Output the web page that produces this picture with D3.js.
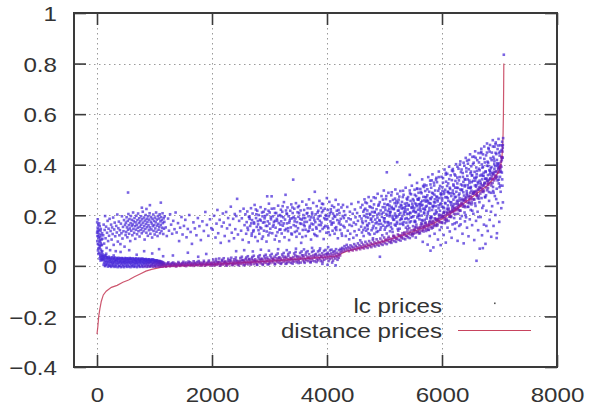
<!DOCTYPE html>
<html>
<head>
<meta charset="utf-8">
<script src="https://cdn.jsdelivr.net/npm/d3@7"></script>
<style>
  html, body { margin: 0; padding: 0; background: #fff; }
  svg { display: block; }
  text { font-family: "Liberation Sans", Arial, sans-serif; fill: #333; }
</style>
</head>
<body>
<svg id="chart" width="589" height="409"></svg>
<script>
// ---- distance prices: sorted curve (x = rank, y = price) ----
const distX = [0, 15, 30, 50, 75, 110, 160, 250, 350, 450, 550, 650, 750, 850, 950, 1050, 1150, 1300, 1600, 2000, 2500, 3000, 3500, 4000, 4200, 4260, 4350, 4500, 4750, 5000, 5300, 5600, 5800, 6000, 6200, 6400, 6600, 6800, 6950, 7000, 7030, 7050, 7062, 7068, 7072, 7075];
const distY = [-0.27, -0.24, -0.2, -0.17, -0.14, -0.115, -0.1, -0.085, -0.077, -0.065, -0.056, -0.043, -0.032, -0.021, -0.014, -0.009, -0.004, -0.001, 0.002, 0.006, 0.012, 0.019, 0.027, 0.035, 0.04, 0.05, 0.058, 0.066, 0.082, 0.098, 0.12, 0.143, 0.162, 0.185, 0.215, 0.25, 0.285, 0.32, 0.36, 0.38, 0.41, 0.45, 0.52, 0.6, 0.7, 0.8];

// ---- lc prices: flat [x, y, x, y, ...] lists ----
const lcLeftColumn = [3,.172, 8,.118, 12,.151, 15,.087, 19,.134, 22,.162, 26,.069, 29,.109, 33,.143, 36,.052, 40,.125, 43,.096, 47,.157, 50,.078, 54,.113, 57,.041, 61,.138, 64,.091, 68,.064, 71,.121, 75,.047, 78,.104, 82,.033, 85,.083, 89,.129, 92,.058, 96,.028, 5,.098, 10,.139, 17,.061, 24,.117, 31,.083, 38,.168, 45,.071, 52,.101, 59,.036, 66,.146, 73,.082, 80,.055, 87,.039, 94,.107, 2,.131, 13,.184, 27,.047, 44,.029, 62,.021, 76,.026, 90,.024];

const lcLowBand = [105,.038, 112,.022, 118,.031, 124,.012, 131,.027, 137,.041, 143,.018, 150,.006, 156,.029, 162,.015, 170,.034, 176,.021, 183,.009, 190,.026, 197,.014, 204,.031, 210,.003, 217,.019, 224,.024, 231,.011, 238,.028, 245,.016, 252,.002, 259,.021, 266,.012, 273,.026, 280,.007, 287,.017, 294,.029, 301,.013, 308,.022, 315,.004, 322,.018, 329,.025, 336,.010, 343,.020, 350,.028, 357,.006, 364,.015, 371,.023, 378,.012, 385,.027, 392,.001, 399,.019, 406,.014, 413,.024, 420,.008, 427,.017, 434,.029, 441,.011, 448,.021, 455,.004, 462,.016, 469,.026, 476,.013, 483,.020, 490,.007, 497,.024, 504,.015, 511,.028, 518,.010, 525,.018, 532,.003, 539,.022, 546,.013, 553,.027, 560,.017, 567,.009, 574,.023, 581,.014, 588,.029, 595,.005, 602,.019, 609,.012, 616,.025, 623,.016, 630,.002, 637,.021, 644,.011, 651,.026, 658,.008, 665,.018, 672,.024, 679,.013, 686,.020, 693,.006, 700,.016, 707,.027, 714,.011, 721,.022, 728,.004, 735,.017, 742,.025, 749,.013, 756,.019, 763,.008, 770,.023, 777,.015, 784,.028, 791,.003, 798,.018, 805,.012, 812,.024, 819,.009, 826,.020, 833,.014, 840,.026, 847,.006, 854,.017, 861,.022, 868,.011, 875,.019, 882,.004, 889,.015, 896,.025, 903,.010, 910,.021, 917,.013, 924,.018, 931,.002, 938,.016, 945,.023, 952,.008, 959,.019, 966,.012, 973,.025, 980,.005, 987,.017, 994,.011, 1001,.021, 1008,.014, 1015,.003, 1022,.019, 1029,.009, 1036,.016, 1043,.022, 1050,.007, 1057,.013, 1064,.018, 1071,.004, 1078,.015, 1085,.010, 1092,.019, 1099,.006, 1106,.012, 1113,.016, 1120,.003, 1127,.011, 1134,.008, 1141,.014, 1148,.005,
1155,.006, 1168,.001, 1180,.009, 1193,.003, 1205,-.001, 1218,.007, 1230,.010, 1243,.002, 1256,.006, 1268,-.002, 1281,.008, 1294,.004, 1306,.011, 1319,.000, 1332,.006, 1345,.003, 1357,.009, 1370,.005, 1383,-.001, 1396,.007, 1408,.002, 1421,.010, 1434,.005, 1447,.000, 1459,.008, 1472,.004, 1485,.011, 1498,.006, 1511,.001, 1524,.009, 1537,.004, 1550,.013, 1563,.007, 1576,.002, 1589,.010, 1602,.005, 1615,.014, 1628,.008, 1641,.003, 1654,.011, 1667,.006, 1680,.000, 1693,.009, 1706,.012, 1719,.004, 1732,.008, 1745,.015, 1758,.002, 1771,.010, 1784,.006, 1797,.013, 1810,.008, 1823,.003, 1836,.011, 1849,.007, 1862,.014, 1875,.001, 1888,.009, 1901,.005, 1914,.012, 1927,.008, 1940,.016, 1953,.004, 1966,.010, 1979,.006, 1992,.013,
2005,.009, 2018,.002, 2031,.015, 2044,.011, 2057,.006, 2070,.018, 2083,.004, 2096,.012, 2109,.008, 2122,.016, 2135,.001, 2148,.013, 2161,.009, 2174,.020, 2187,.005, 2200,.014, 2213,.010, 2226,.017, 2239,.003, 2252,.012, 2265,.008, 2278,.019, 2291,.006, 2304,.015, 2317,.011, 2330,.021, 2343,.004, 2356,.013, 2369,.009, 2382,.018, 2395,.007, 2408,.014, 2421,.022, 2434,.010, 2447,.005, 2460,.016, 2473,.012, 2486,.020,
2500,.008, 2512,.017, 2524,.024, 2536,.011, 2548,.003, 2560,.019, 2572,.014, 2584,.027, 2596,.009, 2608,.021, 2620,.015, 2632,.006, 2644,.025, 2656,.013, 2668,.019, 2680,.010, 2692,.028, 2704,.016, 2716,.022, 2728,.007, 2740,.018, 2752,.026, 2764,.012, 2776,.020, 2788,.004, 2800,.017, 2812,.029, 2824,.014, 2836,.023, 2848,.010, 2860,.019, 2872,.027, 2884,.008, 2896,.021, 2908,.015, 2920,.031, 2932,.012, 2944,.024, 2956,.018, 2968,.006, 2980,.026, 2992,.016,
3004,.022, 3016,.011, 3028,.033, 3040,.019, 3052,.027, 3064,.014, 3076,.024, 3088,.036, 3100,.009, 3112,.021, 3124,.030, 3136,.017, 3148,.025, 3160,.013, 3172,.034, 3184,.020, 3196,.028, 3208,.011, 3220,.023, 3232,.037, 3244,.016, 3256,.029, 3268,.021, 3280,.008, 3292,.032, 3304,.018, 3316,.026, 3328,.039, 3340,.015, 3352,.024, 3364,.031, 3376,.012, 3388,.027, 3400,.020, 3412,.035, 3424,.017, 3436,.028, 3448,.041, 3460,.022, 3472,.014, 3484,.033, 3496,.025,
3508,.019, 3520,.036, 3532,.028, 3544,.013, 3556,.031, 3568,.042, 3580,.022, 3592,.034, 3604,.017, 3616,.027, 3628,.044, 3640,.024, 3652,.036, 3664,.019, 3676,.030, 3688,.046, 3700,.025, 3712,.015, 3724,.038, 3736,.029, 3748,.021, 3760,.041, 3772,.033, 3784,.018, 3796,.035, 3808,.047, 3820,.026, 3832,.039, 3844,.022, 3856,.032, 3868,.044, 3880,.028, 3892,.019, 3904,.037, 3916,.050, 3928,.030, 3940,.042, 3952,.024, 3964,.035, 3976,.046, 3988,.029,
4000,.040, 4012,.052, 4024,.033, 4036,.045, 4048,.027, 4060,.038, 4072,.049, 4084,.031, 4096,.043, 4108,.055, 4120,.035, 4132,.047, 4144,.029, 4156,.040, 4168,.052, 4180,.036, 4192,.045, 4204,.032, 4216,.048, 4228,.041, 4240,.054];

// outer rows of the low band (both edges)
const lcLowBandEdge = [103,.045, 115,.004, 127,.036, 139,-.001, 152,.040, 164,.003, 178,.033, 191,-.003, 205,.036, 219,.000, 233,.032, 247,-.004, 261,.034, 275,.000, 289,.031, 303,-.004, 317,.033, 331,-.002, 345,.030, 359,-.005, 373,.032, 387,-.001, 401,.030, 415,-.005, 429,.031, 443,-.002, 457,.029, 471,-.005, 485,.031, 499,-.001, 513,.030, 527,-.004, 541,.029, 555,-.002, 569,.031, 583,-.005, 597,.028, 611,-.001, 625,.030, 639,-.004, 653,.028, 667,-.002, 681,.030, 695,-.005, 709,.027, 723,-.001, 737,.029, 751,-.004, 765,.027, 779,-.002, 793,.028, 807,-.004, 821,.026, 835,-.001, 849,.027, 863,-.004, 877,.025, 891,-.002, 905,.026, 919,-.003, 933,.024, 947,-.001, 961,.025, 975,-.003, 989,.023, 1003,-.002, 1017,.022, 1031,-.003, 1045,.020, 1059,-.002, 1073,.019, 1087,-.003, 1101,.017, 1115,-.002, 1129,.016, 1143,-.003,
1162,.012, 1199,-.003, 1241,.014, 1287,.001, 1326,.013, 1372,-.002, 1415,.015, 1461,.003, 1503,.016, 1549,-.001, 1592,.017, 1638,.002, 1681,.018, 1727,.004, 1769,.019, 1815,.001, 1858,.020, 1903,.003, 1946,.021, 1991,.001,
2021,.025, 2047,.003, 2073,.027, 2099,.014, 2126,.029, 2152,.002, 2178,.024, 2204,.030, 2231,.016, 2257,.001, 2283,.028, 2309,.022, 2336,.032, 2362,.003, 2388,.026, 2414,.033, 2441,.018, 2467,.002, 2493,.031,
2519,.036, 2545,.022, 2571,.004, 2597,.033, 2623,.038, 2649,.027, 2675,.005, 2701,.035, 2727,.040, 2753,.019, 2779,.006, 2805,.037, 2831,.042, 2857,.028, 2883,.004, 2909,.039, 2935,.044, 2961,.033, 2987,.007,
3013,.041, 3039,.047, 3065,.028, 3091,.006, 3117,.043, 3143,.049, 3169,.031, 3195,.008, 3221,.045, 3247,.051, 3273,.036, 3299,.010, 3325,.047, 3351,.053, 3377,.029, 3403,.009, 3429,.049, 3455,.055, 3481,.038,
3507,.011, 3533,.051, 3559,.057, 3585,.041, 3611,.012, 3637,.053, 3663,.058, 3689,.034, 3715,.014, 3741,.055, 3767,.060, 3793,.044, 3819,.015, 3845,.057, 3871,.061, 3897,.039, 3923,.017, 3949,.059, 3975,.063, 4001,.047,
4027,.019, 4053,.061, 4079,.064, 4105,.021, 4131,.058, 4157,.066, 4183,.024, 4209,.062, 4235,.067];

const lcCurveBand = [4252,.062, 4265,.071, 4278,.056, 4291,.066, 4304,.078, 4317,.060, 4330,.070, 4343,.083, 4356,.064, 4369,.074, 4382,.058, 4395,.069, 4408,.081, 4421,.065, 4434,.076, 4447,.061, 4460,.072, 4473,.086, 4486,.068, 4499,.079, 4512,.063, 4525,.074, 4538,.089, 4551,.070, 4564,.081, 4577,.066, 4590,.077, 4603,.092, 4616,.072, 4629,.084, 4642,.069, 4655,.080, 4668,.095, 4681,.075, 4694,.087, 4707,.071, 4720,.083, 4733,.098, 4746,.078, 4759,.090, 4772,.074, 4785,.086, 4798,.102, 4811,.081, 4824,.093, 4837,.077, 4850,.089, 4863,.105, 4876,.084, 4889,.096, 4902,.080, 4915,.092, 4928,.108, 4941,.087, 4954,.099, 4967,.083, 4980,.095, 4993,.112,
5008,.090, 5024,.104, 5040,.086, 5056,.099, 5072,.115, 5088,.094, 5104,.108, 5120,.091, 5136,.103, 5152,.119, 5168,.098, 5184,.112, 5200,.095, 5216,.108, 5232,.124, 5248,.103, 5264,.117, 5280,.100, 5296,.113, 5312,.129, 5328,.108, 5344,.122, 5360,.105, 5376,.118, 5392,.134, 5408,.113, 5424,.127, 5440,.110, 5456,.124, 5472,.140, 5488,.118,
5504,.127, 5520,.141, 5536,.130, 5552,.152, 5568,.134, 5584,.146, 5600,.128, 5616,.150, 5632,.160, 5648,.139, 5664,.154, 5680,.136, 5696,.158, 5712,.170, 5728,.146, 5744,.162, 5760,.143, 5776,.166, 5792,.178, 5808,.155, 5824,.170, 5840,.151, 5856,.174, 5872,.188, 5888,.163, 5904,.180, 5920,.160, 5936,.184, 5952,.198, 5968,.172, 5984,.190,
6000,.170, 6016,.195, 6032,.209, 6048,.182, 6064,.201, 6080,.181, 6096,.206, 6112,.222, 6128,.195, 6144,.214, 6160,.193, 6176,.219, 6192,.236, 6208,.206, 6224,.227, 6240,.205, 6256,.232, 6272,.250, 6288,.220, 6304,.241, 6320,.218, 6336,.246, 6352,.265, 6368,.234, 6384,.256, 6400,.232, 6416,.261, 6432,.281, 6448,.249, 6464,.271, 6480,.247, 6496,.276, 6512,.297, 6528,.263, 6544,.287, 6560,.262, 6576,.292, 6592,.313, 6608,.278, 6624,.302, 6640,.277, 6656,.307, 6672,.329, 6688,.294, 6704,.318, 6720,.292, 6736,.323, 6752,.345, 6768,.310, 6784,.335, 6800,.308, 6816,.340, 6832,.362, 6848,.327, 6864,.354, 6880,.328, 6896,.362, 6912,.384, 6928,.346, 6944,.374, 6960,.352, 6976,.386, 6992,.405, 7008,.372, 7020,.398, 7032,.392, 7044,.428, 7052,.452, 7058,.478, 7063,.505, 7075,.835,
5016,.101, 5063,.108, 5109,.097, 5157,.114, 5204,.106, 5251,.121, 5297,.112, 5344,.128, 5391,.119, 5437,.135, 5484,.126, 5531,.142, 5577,.134, 5624,.152, 5671,.143, 5717,.161, 5764,.153, 5811,.171, 5857,.164, 5904,.182, 5951,.175, 5997,.194, 6044,.188, 6091,.208, 6137,.203, 6184,.223, 6231,.219, 6277,.241, 6324,.237, 6371,.259, 6417,.254, 6464,.277, 6511,.272, 6557,.294, 6604,.289, 6651,.312, 6697,.306, 6744,.329, 6791,.324, 6837,.346, 6884,.343, 6931,.371, 6977,.369, 7014,.391, 7040,.418];

const lcUpperLeft = [108,.121, 116,.163, 124,.088, 133,.142, 141,.197, 149,.109, 158,.155, 167,.071, 175,.131, 184,.178, 193,.098, 201,.147, 210,.119, 219,.186, 228,.062, 236,.138, 245,.163, 254,.104, 263,.152, 272,.126, 281,.191, 290,.083, 299,.144, 308,.171, 317,.117, 326,.058, 335,.158, 344,.132, 353,.203, 362,.096, 371,.149, 380,.175, 389,.121, 398,.141, 407,.086, 416,.167, 425,.129, 434,.196, 443,.108, 452,.154, 461,.137, 470,.181, 479,.076, 488,.162, 497,.122,
503,.171, 509,.134, 515,.192, 521,.152, 528,.113, 534,.178, 540,.143, 546,.205, 553,.161, 559,.127, 565,.185, 571,.148, 578,.098, 584,.169, 590,.197, 596,.139, 603,.158, 609,.182, 615,.121, 621,.164, 628,.211, 634,.146, 640,.176, 646,.131, 653,.189, 659,.157, 665,.107, 671,.172, 678,.143, 684,.198, 690,.162, 696,.125, 703,.181, 709,.151, 715,.207, 721,.137, 728,.169, 734,.188, 740,.116, 746,.155, 753,.176, 759,.142, 765,.196, 771,.163, 778,.129, 784,.184, 790,.149, 796,.214, 803,.171, 809,.137, 815,.191, 821,.158, 828,.104, 834,.179, 840,.146, 846,.201, 853,.166, 859,.131, 865,.186, 871,.153, 878,.174, 884,.119, 890,.196, 896,.161, 903,.141, 909,.183, 915,.208, 921,.152, 928,.127, 934,.174, 940,.193, 946,.144, 953,.167, 959,.112, 965,.186, 971,.157, 978,.203, 984,.138, 990,.178, 996,.161, 1003,.124, 1009,.191, 1015,.148, 1021,.172, 1028,.211, 1034,.135, 1040,.183, 1046,.159, 1053,.118, 1059,.197, 1065,.166, 1071,.143, 1078,.187, 1084,.154, 1090,.204, 1096,.129, 1103,.176, 1109,.162, 1115,.193, 1121,.138, 1128,.181, 1134,.151, 1140,.208, 1146,.169, 1153,.126, 1159,.188, 1165,.147, 1171,.174, 1177,.196,
160,.048, 290,.041, 410,.055, 560,.062, 690,.044, 820,.058, 960,.049, 1080,.066, 1150,.038, 540,.29, 780,.23, 920,.24, 1110,.25, 860,.225];

const lcUpperMiddle = [1195,.152, 1214,.118, 1236,.187, 1252,.139, 1271,.204, 1289,.163, 1307,.127, 1326,.178, 1348,.145, 1367,.211, 1385,.132, 1409,.169, 1428,.098, 1446,.151, 1469,.193, 1488,.124, 1512,.158, 1536,.182, 1557,.113, 1579,.146, 1604,.201, 1628,.134, 1651,.087, 1677,.172, 1702,.148, 1729,.121, 1754,.189, 1781,.157, 1806,.102, 1833,.176, 1858,.138, 1884,.213, 1911,.162, 1937,.119, 1965,.184, 1988,.149, 1320,.041, 1580,.052, 1760,.036, 1900,.047,
2012,.143, 2035,.198, 2061,.112, 2078,.167, 2094,.221, 2108,.129, 2133,.182, 2152,.091, 2170,.156, 2189,.207, 2203,.171, 2221,.118, 2246,.213, 2262,.148, 2281,.189, 2297,.098, 2309,.162, 2327,.234, 2344,.131, 2368,.186, 2382,.109, 2396,.205, 2405,.145, 2423,.197, 2437,.265, 2451,.124, 2472,.178, 2490,.216, 2506,.139, 2519,.188, 2533,.103, 2549,.226, 2566,.161, 2581,.204, 2594,.127,
2603,.173, 2614,.215, 2626,.142, 2639,.093, 2651,.194, 2664,.158, 2678,.228, 2689,.119, 2697,.181, 2706,.207, 2717,.136, 2729,.172, 2741,.241, 2752,.114, 2766,.189, 2778,.154, 2787,.218, 2795,.098, 2802,.164, 2811,.201, 2823,.127, 2834,.183, 2845,.232, 2857,.148, 2868,.107, 2879,.196, 2888,.171, 2897,.214, 2904,.139, 2915,.188, 2926,.224, 2937,.158, 2948,.096, 2959,.203, 2960,.275, 2970,.176, 2981,.121, 2990,.246, 2998,.167,
3003,.211, 3014,.147, 3026,.184, 3037,.275, 3048,.129, 3059,.196, 3071,.162, 3082,.227, 3091,.104, 3098,.178, 3106,.151, 3117,.209, 3128,.186, 3139,.133, 3150,.238, 3161,.169, 3172,.097, 3183,.201, 3191,.144, 3198,.222, 3203,.176, 3212,.128, 3222,.214, 3232,.159, 3241,.192, 3251,.252, 3261,.113, 3270,.183, 3279,.281, 3289,.146, 3297,.207, 3304,.168, 3313,.231, 3322,.137, 3332,.196, 3341,.102, 3351,.179, 3361,.218, 3370,.152, 3379,.243, 3389,.124, 3397,.188,
3403,.209, 3412,.341, 3421,.161, 3431,.226, 3441,.134, 3450,.187, 3460,.248, 3469,.115, 3478,.173, 3488,.212, 3496,.149, 3503,.194, 3512,.237, 3522,.127, 3532,.168, 3541,.219, 3551,.091, 3560,.183, 3570,.254, 3579,.142, 3589,.201, 3597,.163, 3602,.221, 3611,.157, 3621,.189, 3631,.118, 3640,.242, 3650,.174, 3659,.209, 3669,.136, 3678,.196, 3688,.263, 3697,.151,
3703,.182, 3712,.227, 3722,.104, 3731,.167, 3741,.211, 3750,.143, 3760,.249, 3769,.191, 3779,.126, 3788,.293, 3797,.173, 3802,.204, 3811,.153, 3821,.236, 3830,.118, 3840,.186, 3849,.218, 3859,.162, 3868,.257, 3878,.137, 3887,.198, 3896,.229, 3904,.171, 3913,.212, 3923,.146, 3932,.244, 3942,.106, 3951,.189, 3961,.226, 3970,.158, 3980,.201, 3989,.131, 3997,.268,
4003,.184, 4012,.221, 4022,.149, 4031,.196, 4041,.253, 4050,.122, 4060,.176, 4069,.214, 4079,.163, 4088,.238, 4097,.139, 4104,.207, 4113,.171, 4123,.232, 4132,.127, 4142,.194, 4151,.261, 4161,.153, 4170,.218, 4180,.181, 4189,.109, 4198,.243, 4206,.168, 4217,.209, 4228,.142, 4239,.186, 4251,.231, 4262,.119, 4274,.197, 4285,.158, 4296,.216,
2420,.058, 2560,.062, 2710,.057, 2850,.064, 2990,.060, 3150,.066, 3300,.062, 3460,.068, 3600,.065, 3740,.071, 3880,.069, 4020,.074, 3920,.008, 4010,.004, 4090,.013, 4150,.002];

const lcCloudMiddle = [2618,.151, 2655,.186, 2692,.128, 2733,.167, 2771,.204, 2809,.141, 2848,.179, 2886,.116, 2924,.197, 2962,.158, 3001,.131, 3039,.226, 3077,.174, 3115,.119, 3153,.198, 3191,.163, 3229,.236, 3267,.141, 3305,.205, 3343,.171, 3381,.128, 3419,.193, 3457,.157, 3495,.232, 3533,.186, 3571,.114, 3609,.174, 3647,.207, 3685,.139, 3723,.192, 3761,.164, 3799,.121, 3837,.211, 3875,.178, 3913,.246, 3951,.152, 3989,.197, 4027,.133, 4065,.224, 4103,.187, 4141,.149, 4179,.203, 4217,.176, 4255,.128, 4293,.189,
2641,.194, 2683,.168, 2724,.141, 2762,.223, 2797,.177, 2838,.152, 2871,.211, 2913,.173, 2951,.136, 2983,.218, 3022,.192, 3058,.155, 3096,.209, 3133,.178, 3172,.143, 3208,.196, 3246,.168, 3287,.219, 3324,.149, 3362,.187, 3398,.231, 3437,.176, 3476,.138, 3514,.208, 3552,.166, 3589,.189, 3627,.143, 3664,.228, 3703,.158, 3742,.203, 3781,.181, 3818,.147, 3856,.196, 3894,.161, 3933,.219, 3971,.184, 4009,.156, 4048,.207, 4086,.169, 4124,.198, 4162,.142, 4201,.221, 4239,.163, 4278,.241];

const lcUpperRight = [4305,.152, 4318,.201, 4327,.118, 4339,.176, 4352,.233, 4361,.139, 4374,.188, 4386,.105, 4391,.162, 4398,.214, 4404,.127, 4412,.184, 4425,.245, 4433,.158, 4447,.206, 4458,.111, 4466,.171, 4479,.137, 4485,.223, 4496,.192, 4503,.164, 4516,.121, 4524,.209, 4538,.178, 4545,.252, 4557,.143, 4569,.196, 4578,.101, 4586,.231, 4594,.155,
4601,.187, 4608,.132, 4615,.241, 4623,.169, 4631,.214, 4637,.118, 4644,.198, 4652,.263, 4659,.151, 4667,.226, 4675,.177, 4683,.139, 4690,.205, 4694,.248, 4698,.162, 4702,.219, 4709,.146, 4717,.191, 4724,.272, 4732,.168, 4740,.235, 4746,.124, 4753,.203, 4761,.182, 4768,.257, 4775,.141, 4783,.213, 4789,.174, 4794,.229, 4799,.109,
4803,.196, 4810,.158, 4818,.243, 4825,.127, 4831,.211, 4839,.183, 4846,.268, 4853,.149, 4861,.224, 4867,.172, 4874,.202, 4881,.285, 4888,.137, 4893,.238, 4898,.165, 4904,.207, 4911,.181, 4918,.252, 4926,.143, 4933,.219, 4940,.166, 4948,.276, 4955,.194, 4961,.121, 4969,.232, 4976,.159, 4982,.211, 4988,.298, 4994,.177, 4999,.245,
5003,.188, 5010,.231, 5017,.152, 5025,.264, 5032,.205, 5039,.128, 5046,.241, 5054,.173, 5061,.217, 5068,.289, 5075,.162, 5082,.226, 5089,.196, 5095,.137, 5099,.255, 5104,.214, 5111,.168, 5118,.279, 5125,.233, 5133,.146, 5140,.197, 5147,.261, 5154,.182, 5162,.224, 5169,.118, 5176,.248, 5183,.207, 5189,.302, 5194,.159, 5199,.236,
5203,.191, 5210,.247, 5218,.174, 5225,.285, 5232,.218, 5239,.139, 5246,.262, 5254,.203, 5261,.232, 5268,.166, 5275,.296, 5282,.241, 5288,.187, 5294,.121, 5299,.227, 5304,.253, 5311,.197, 5318,.228, 5325,.162, 5332,.281, 5339,.214, 5347,.132, 5354,.246, 5361,.186, 5368,.309, 5375,.237, 5381,.171, 5387,.266, 5393,.205, 5398,.144,
5403,.223, 5410,.272, 5417,.184, 5424,.241, 5432,.149, 5439,.298, 5446,.211, 5453,.257, 5461,.176, 5468,.231, 5475,.317, 5482,.193, 5488,.128, 5494,.264, 5499,.215,
5502,.196, 5507,.258, 5512,.143, 5518,.229, 5523,.301, 5528,.178, 5534,.247, 5539,.212, 5544,.112, 5549,.276, 5555,.163, 5560,.236, 5566,.328, 5571,.191, 5576,.264, 5582,.222, 5587,.151, 5592,.289, 5596,.205, 5599,.243,
5602,.268, 5607,.184, 5612,.233, 5617,.129, 5623,.304, 5628,.216, 5633,.251, 5639,.168, 5644,.287, 5649,.199, 5655,.342, 5660,.241, 5665,.095, 5671,.226, 5676,.273, 5681,.155, 5687,.312, 5692,.207, 5696,.259, 5699,.182,
5703,.221, 5708,.296, 5713,.171, 5718,.254, 5724,.138, 5729,.318, 5734,.237, 5740,.196, 5745,.279, 5750,.084, 5756,.213, 5761,.351, 5766,.248, 5771,.162, 5777,.293, 5782,.229, 5787,.118, 5792,.267, 5796,.189, 5799,.322,
5802,.246, 5807,.193, 5812,.309, 5818,.148, 5823,.272, 5828,.221, 5834,.362, 5839,.177, 5844,.286, 5850,.073, 5855,.238, 5860,.329, 5866,.205, 5871,.127, 5876,.263, 5882,.298, 5887,.184, 5892,.236, 5896,.341, 5899,.158,
5903,.274, 5908,.212, 5913,.331, 5919,.166, 5924,.255, 5929,.104, 5935,.297, 5940,.228, 5945,.373, 5951,.189, 5956,.268, 5961,.142, 5967,.316, 5972,.243, 5977,.082, 5983,.286, 5988,.201, 5992,.352, 5996,.234, 5999,.173,
6002,.258, 6007,.311, 6012,.196, 6018,.347, 6023,.233, 6028,.122, 6034,.284, 6039,.214, 6044,.381, 6050,.169, 6055,.301, 6060,.247, 6066,.092, 6071,.333, 6076,.187, 6082,.272, 6087,.226, 6092,.364, 6096,.151, 6099,.293,
6103,.239, 6108,.326, 6113,.178, 6119,.287, 6124,.392, 6129,.213, 6135,.136, 6140,.304, 6145,.252, 6151,.358, 6156,.197, 6161,.276, 6167,.111, 6172,.339, 6177,.231, 6183,.164, 6188,.298, 6192,.374, 6196,.218, 6199,.262,
6202,.317, 6207,.244, 6212,.189, 6218,.362, 6223,.271, 6228,.146, 6234,.336, 6239,.223, 6244,.402, 6250,.293, 6255,.172, 6260,.257, 6266,.349, 6271,.099, 6276,.308, 6282,.206, 6287,.384, 6292,.279, 6296,.237, 6299,.158,
6303,.286, 6308,.351, 6313,.219, 6319,.413, 6324,.164, 6329,.322, 6335,.259, 6340,.381, 6345,.197, 6351,.302, 6356,.127, 6361,.367, 6367,.241, 6372,.332, 6377,.089, 6383,.278, 6388,.396, 6392,.211, 6396,.314, 6399,.176,
6403,.341, 6408,.268, 6413,.427, 6419,.192, 6424,.373, 6429,.296, 6435,.151, 6440,.356, 6445,.233, 6451,.404, 6456,.309, 6461,.117, 6467,.382, 6472,.252, 6477,.328, 6483,.184, 6488,.441, 6492,.289, 6496,.366, 6499,.221,
6503,.312, 6508,.394, 6513,.243, 6519,.357, 6524,.161, 6529,.431, 6535,.285, 6540,.336, 6545,.206, 6551,.408, 6556,.264, 6561,.102, 6567,.372, 6572,.318, 6577,.453, 6583,.237, 6588,.347, 6592,.178, 6596,.389, 6599,.296,
6603,.363, 6608,.277, 6613,.418, 6619,.214, 6624,.332, 6629,.141, 6635,.446, 6640,.301, 6645,.384, 6651,.252, 6656,.068, 6661,.357, 6667,.427, 6672,.193, 6677,.322, 6683,.463, 6688,.268, 6692,.401, 6696,.121, 6699,.342,
6703,.388, 6708,.296, 6713,.441, 6719,.238, 6724,.356, 6729,.163, 6735,.472, 6740,.327, 6745,.409, 6751,.271, 6756,.087, 6761,.371, 6767,.437, 6772,.218, 6777,.345, 6783,.484, 6788,.299, 6792,.412, 6796,.138, 6799,.359,
6803,.408, 6808,.321, 6813,.462, 6819,.257, 6824,.379, 6829,.182, 6835,.478, 6840,.343, 6845,.426, 6851,.289, 6856,.115, 6861,.391, 6867,.448, 6872,.236, 6877,.366, 6883,.497, 6888,.312, 6892,.431, 6896,.158, 6899,.372,
6903,.423, 6908,.338, 6913,.471, 6919,.276, 6924,.395, 6929,.201, 6935,.488, 6940,.357, 6945,.442, 6951,.305, 6956,.129, 6961,.406, 6967,.462, 6972,.248, 6977,.381, 6983,.502, 6988,.326, 6992,.447, 6996,.174, 6999,.389,
7003,.436, 7009,.352, 7014,.477, 7020,.293, 7025,.412, 7031,.228, 7036,.458, 7041,.369, 7046,.491, 7051,.317, 7055,.428, 7059,.251,
5220,.41, 5440,.36, 5040,.37, 4920,.036, 5800,.06, 6600,.02, 6710,.07, 6950,.11];

const lcCloudRight = [4612,.176, 4647,.221, 4633,.142, 4681,.193, 4668,.251, 4705,.158, 4739,.206, 4722,.129, 4771,.187, 4758,.232, 4796,.149, 4812,.271, 4845,.168, 4829,.214, 4877,.191, 4863,.134, 4902,.243, 4918,.178, 4951,.206, 4937,.152, 4973,.262, 4989,.188, 5016,.221, 5004,.143, 5047,.199, 5031,.276, 5069,.171, 5088,.238, 5112,.154, 5097,.212, 5141,.189, 5126,.291, 5163,.226, 5178,.163, 5207,.257, 5194,.198, 5231,.146, 5246,.219, 5272,.181, 5258,.274, 5296,.238, 5311,.167, 5337,.205, 5323,.297, 5359,.223, 5372,.151, 5398,.262, 5386,.189, 5421,.238, 5437,.172, 5462,.283, 5449,.208, 5484,.246, 5497,.157,
5511,.219, 5527,.281, 5538,.174, 5553,.243, 5566,.306, 5579,.198, 5594,.262, 5608,.137, 5619,.224, 5633,.292, 5648,.181, 5657,.257, 5672,.316, 5686,.211, 5694,.149, 5709,.272, 5718,.234, 5733,.187, 5746,.303, 5757,.256, 5769,.142, 5781,.219, 5794,.337, 5806,.264, 5817,.195, 5829,.289, 5843,.232, 5856,.158, 5864,.318, 5878,.251, 5889,.207, 5902,.348, 5916,.272, 5927,.181, 5941,.239, 5953,.306, 5964,.218, 5978,.285, 5991,.153,
6004,.267, 6017,.329, 6028,.211, 6041,.292, 6053,.249, 6066,.361, 6074,.176, 6089,.316, 6101,.268, 6114,.227, 6126,.343, 6138,.194, 6149,.287, 6163,.251, 6174,.377, 6186,.214, 6198,.322, 6209,.283, 6221,.168, 6233,.357, 6246,.246, 6258,.309, 6269,.392, 6281,.229, 6294,.338, 6306,.267, 6317,.187, 6329,.371, 6341,.299, 6352,.246, 6364,.352, 6376,.408, 6388,.262, 6399,.319, 6411,.201, 6423,.386, 6434,.287, 6446,.342, 6458,.234, 6469,.419, 6481,.308, 6493,.264, 6504,.373, 6516,.331, 6527,.218, 6539,.402, 6551,.286, 6562,.348, 6574,.247, 6586,.427, 6597,.319, 6609,.376, 6620,.268, 6632,.193, 6643,.409, 6655,.337, 6667,.286, 6678,.446, 6690,.361, 6701,.229, 6713,.392, 6724,.317, 6736,.423, 6748,.273, 6759,.374, 6771,.158, 6782,.448, 6794,.336, 6805,.395, 6817,.292, 6828,.452, 6840,.371, 6851,.214, 6863,.418, 6874,.344, 6886,.472, 6897,.289, 6909,.402, 6920,.356, 6932,.447, 6943,.264, 6955,.419, 6966,.338, 6978,.476, 6989,.392, 7001,.311, 7012,.452, 7024,.373, 7035,.429, 7047,.342, 7056,.466];

// dense core of the right-hand cloud
const lcCloudCore = [5011,.172, 5093,.204, 5047,.158, 5168,.183, 5129,.227, 5215,.167, 5276,.209, 5238,.251, 5301,.186, 5352,.231, 5333,.173, 5419,.206, 5391,.248, 5456,.191, 5478,.229, 5523,.174, 5547,.213, 5581,.262, 5606,.197, 5642,.239, 5663,.178, 5701,.226, 5726,.271, 5752,.205, 5788,.248, 5813,.189, 5837,.236, 5869,.281, 5894,.219, 5921,.262, 5946,.203, 5979,.247, 6008,.296, 6033,.228, 6059,.271, 6084,.214, 6111,.257, 6137,.309, 6162,.241, 6189,.288, 6214,.229, 6241,.273, 6267,.326, 6292,.258, 6318,.302, 6343,.246, 6371,.291, 6396,.343, 6422,.272, 6447,.319, 6473,.262, 6499,.308, 6525,.359, 6551,.291, 6576,.337, 6602,.281, 6628,.326, 6654,.378, 6679,.309, 6705,.356, 6731,.298, 6757,.344, 6782,.396, 6808,.329, 6834,.376, 6859,.318, 6885,.364, 6911,.413, 6937,.348, 6962,.396, 6988,.341, 7014,.382, 7039,.431,
5062,.243, 5141,.134, 5183,.266, 5227,.196, 5264,.147, 5318,.272, 5366,.214, 5407,.158, 5444,.287, 5491,.236, 5533,.152, 5572,.304, 5617,.244, 5655,.166, 5694,.321, 5738,.259, 5779,.173, 5822,.338, 5861,.252, 5903,.186, 5944,.351, 5987,.279, 6026,.197, 6068,.368, 6107,.292, 6149,.213, 6188,.383, 6229,.309, 6271,.224, 6312,.401, 6353,.318, 6394,.237, 6436,.416, 6477,.337, 6518,.251, 6559,.432, 6601,.352, 6642,.266, 6683,.451, 6724,.368, 6766,.279, 6807,.466, 6848,.386, 6889,.296, 6931,.481, 6972,.401, 7013,.318, 7048,.476];

const xTicks = [0, 2000, 4000, 6000, 8000];
const yTicks = [-0.4, -0.2, 0, 0.2, 0.4, 0.6, 0.8, 1];
const seriesNames = ["lc prices", "distance prices"];

// ---- layout ----
const plot = { left: 74, top: 13, right: 557, bottom: 367 };
const svg = d3.select("#chart");

const x = d3.scaleLinear().domain([-400, 8000]).range([plot.left, plot.right]);
const y = d3.scaleLinear().domain([-0.4, 1]).range([plot.bottom, plot.top]);

function toPairs(flat) {
  const out = [];
  for (let i = 0; i + 1 < flat.length; i += 2) out.push({ x: flat[i], y: flat[i + 1] });
  return out;
}
const lcPoints = [].concat(
  toPairs(lcUpperLeft), toPairs(lcUpperMiddle), toPairs(lcCloudMiddle),
  toPairs(lcUpperRight), toPairs(lcCloudRight), toPairs(lcCloudCore),
  toPairs(lcLeftColumn), toPairs(lcLowBandEdge), toPairs(lcLowBand), toPairs(lcCurveBand)
);

// palette colour follows each point's distance from the distance-price curve
const bis = d3.bisector(d => d).left;
function curveAt(v) {
  const i = Math.min(Math.max(bis(distX, v), 1), distX.length - 1);
  const x0 = distX[i - 1], x1 = distX[i];
  const t = Math.max(0, Math.min(1, (v - x0) / (x1 - x0)));
  return distY[i - 1] + t * (distY[i] - distY[i - 1]);
}
const palette = d3.scaleLinear()
  .domain([0, 0.012, 0.035])
  .range(["#9c1c96", "#5e20c0", "#4628d8"])
  .clamp(true);

// ---- grid ----
const grid = svg.append("g").attr("class", "grid")
  .attr("stroke", "#9a9a9a").attr("stroke-width", 1).attr("stroke-dasharray", "1.5,3.5");
grid.selectAll("line.gx").data(xTicks.filter(t => x(t) > plot.left + 1 && x(t) < plot.right - 1))
  .join("line").attr("class", "gx")
  .attr("x1", d => Math.round(x(d)) + 0.5).attr("x2", d => Math.round(x(d)) + 0.5)
  .attr("y1", plot.top).attr("y2", plot.bottom);
grid.selectAll("line.gy").data(yTicks.filter(t => y(t) > plot.top + 1 && y(t) < plot.bottom - 1))
  .join("line").attr("class", "gy")
  .attr("y1", d => Math.round(y(d)) + 0.5).attr("y2", d => Math.round(y(d)) + 0.5)
  .attr("x1", plot.left).attr("x2", plot.right);

// ---- distance prices (line, beneath the dots) ----
const distData = distX.map((v, i) => ({ x: v, y: distY[i] }));
const lineGen = d3.line().x(d => x(d.x)).y(d => y(d.y));
svg.append("path").datum(distData)
  .attr("d", lineGen)
  .attr("fill", "none")
  .attr("stroke", "#c8445e")
  .attr("stroke-width", 1.2)
  .attr("stroke-opacity", 0.9);

// ---- lc prices (dots) ----
const dotSize = 2.6;
svg.append("g").attr("class", "lc")
  .selectAll("rect").data(lcPoints).join("rect")
  .attr("x", d => x(d.x) - dotSize / 2)
  .attr("y", d => y(d.y) - dotSize / 2)
  .attr("width", dotSize).attr("height", dotSize)
  .attr("fill", d => palette(Math.abs(d.y - curveAt(d.x))))
  .attr("fill-opacity", 0.72);

// ---- axes: inward ticks mirrored on all four sides ----
const tickLen = 12;
const stretch = 1.15;
function styleAxis(g) {
  g.select(".domain").remove();
  g.selectAll(".tick line").attr("stroke", "#3a3a3a").attr("stroke-width", 1.6);
  g.selectAll(".tick text").attr("font-size", 21).attr("fill", "#333");
}
const axB = svg.append("g").attr("transform", `translate(0,${plot.bottom})`)
  .call(d3.axisBottom(x).tickValues(xTicks).tickSize(-tickLen).tickPadding(20).tickFormat(d3.format("d")));
styleAxis(axB);
const axL = svg.append("g").attr("transform", `translate(${plot.left},0)`)
  .call(d3.axisLeft(y).tickValues(yTicks).tickSize(-tickLen).tickPadding(17).tickFormat(d => d3.format("")(+d.toFixed(1))));
styleAxis(axL);
axL.selectAll(".tick text").attr("dy", "0.37em");
const axT = svg.append("g").attr("transform", `translate(0,${plot.top})`)
  .call(d3.axisTop(x).tickValues(xTicks).tickSize(-tickLen).tickFormat(""));
styleAxis(axT);
const axR = svg.append("g").attr("transform", `translate(${plot.right},0)`)
  .call(d3.axisRight(y).tickValues(yTicks).tickSize(-tickLen).tickFormat(""));
styleAxis(axR);

// border
svg.append("rect")
  .attr("x", plot.left).attr("y", plot.top)
  .attr("width", plot.right - plot.left).attr("height", plot.bottom - plot.top)
  .attr("fill", "none").attr("stroke", "#3a3a3a").attr("stroke-width", 2);

// ---- legend ----
const legend = svg.append("g").attr("class", "legend");
legend.append("text").attr("x", 442).attr("y", 313).attr("text-anchor", "end")
  .attr("font-size", 21).text(seriesNames[0]);
legend.append("text").attr("x", 442).attr("y", 338).attr("text-anchor", "end")
  .attr("font-size", 21).text(seriesNames[1]);
legend.append("rect").attr("x", 494).attr("y", 302.5).attr("width", 1.6).attr("height", 1.6)
  .attr("fill", "#555");
legend.append("line").attr("x1", 458).attr("x2", 531).attr("y1", 330.5).attr("y2", 330.5)
  .attr("stroke", "#c8445e").attr("stroke-width", 1.2);

// widen the glyphs a little, keeping anchors in place
svg.selectAll("text").each(function () {
  const w = this.getComputedTextLength();
  if (w > 0) {
    this.setAttribute("textLength", (w * stretch).toFixed(1));
    this.setAttribute("lengthAdjust", "spacingAndGlyphs");
  }
});
</script>
</body>
</html>
